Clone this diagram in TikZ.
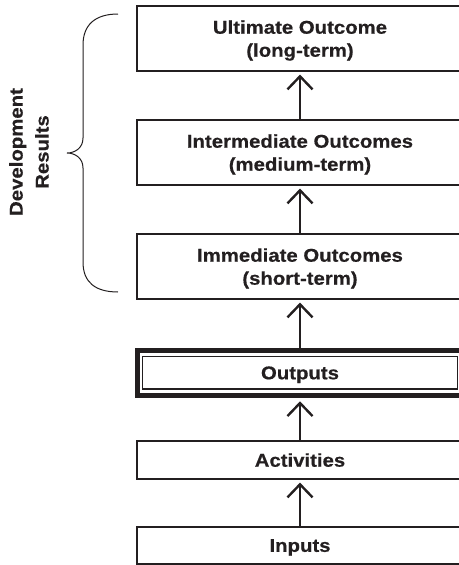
\documentclass[tikz,border=0pt]{standalone}
\usepackage{fontspec}
\setmainfont{Liberation Sans}[FakeStretch=1.1,BoldFeatures={FakeBold=0.5}]
\usetikzlibrary{arrows.meta}
\definecolor{ink}{HTML}{231F20}
\begin{document}
\begin{tikzpicture}[x=1pt,y=-1pt,
  box/.style={draw=ink, line width=1.2pt, rectangle, inner sep=0pt,
    minimum width=326pt, align=center, text=ink, text depth=0pt,
    font=\fontsize{18.5}{23}\selectfont\bfseries},
  flow/.style={draw=ink, line width=2pt, shorten >=3pt,
    -{Straight Barb[length=13pt,width=25pt,line width=2.4pt]}}]
\useasboundingbox (0,0) rectangle (458,565);
\node[box, minimum height=65pt] (ult) at (300,38.5) {Ultimate Outcome\\(long-term)};
\node[box, minimum height=65pt] (inter) at (300,152.5) {Intermediate Outcomes\\(medium-term)};
\node[box, minimum height=65pt] (imm) at (300,266.5) {Immediate Outcomes\\(short-term)};
\node[box, line width=5pt, minimum width=325pt, minimum height=45pt] (outer) at (300,373.3) {};
\node[box, minimum width=314.6pt, minimum height=32.3pt] (out) at (300,372.85) {Outputs};
\node[box, minimum height=38pt] (act) at (300,460) {Activities};
\node[box, minimum height=37pt] (inp) at (300,545.5) {Inputs};
\draw[flow] (inp.north) -- (act.south);
\draw[flow] (act.north) -- (outer.south);
\draw[flow] (outer.north) -- (imm.south);
\draw[flow] (imm.north) -- (inter.south);
\draw[flow] (inter.north) -- (ult.south);
\draw[ink, line width=1pt] (118,14) .. controls (95,14) and (83,25) .. (83,45) -- (83,138)
  .. controls (83,148) and (75,153) .. (67,153)
  .. controls (75,153) and (83,158) .. (83,168) -- (83,262)
  .. controls (83,282) and (95,292) .. (118,292);
\node[rotate=90, align=center, text=ink, inner sep=0pt,
  font=\fontsize{18.5}{26}\selectfont\bfseries] (dev) at (29,152) {Development\\Results};
\end{tikzpicture}
\end{document}
